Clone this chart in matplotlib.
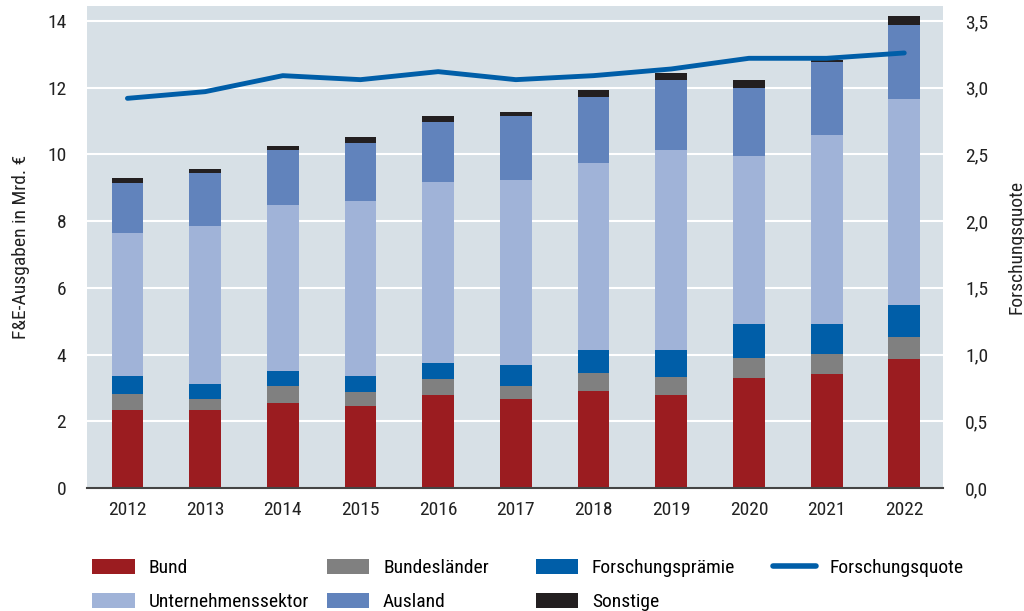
import numpy as np
import matplotlib

matplotlib.use('Agg')
from matplotlib import pyplot as plt
from matplotlib.patches import Patch
from matplotlib.lines import Line2D

plt.rcParams['font.family'] = ['Roboto Condensed', 'Liberation Sans Narrow', 'DejaVu Sans Condensed',
                               'Roboto', 'DejaVu Sans']

years = ['2012', '2013', '2014', '2015', '2016', '2017', '2018', '2019', '2020', '2021', '2022']
bund = [2.34, 2.34, 2.54, 2.47, 2.79, 2.67, 2.92, 2.79, 3.31, 3.43, 3.88]
bundeslaender = [0.47, 0.34, 0.52, 0.40, 0.47, 0.39, 0.53, 0.54, 0.59, 0.59, 0.65]
praemie = [0.56, 0.45, 0.45, 0.50, 0.50, 0.63, 0.69, 0.81, 1.01, 0.89, 0.95]
unternehmen = [4.28, 4.71, 4.97, 5.23, 5.42, 5.54, 5.60, 5.99, 5.04, 5.67, 6.18]
ausland = [1.48, 1.60, 1.66, 1.73, 1.78, 1.92, 1.98, 2.10, 2.03, 2.18, 2.23]
sonstige = [0.17, 0.12, 0.12, 0.19, 0.19, 0.13, 0.20, 0.20, 0.25, 0.07, 0.26]
quote = [2.92, 2.97, 3.09, 3.06, 3.12, 3.06, 3.09, 3.14, 3.22, 3.22, 3.26]

series = [
    ('Bund', bund, '#9b1c20'),
    ('Bundesländer', bundeslaender, '#808080'),
    ('Forschungsprämie', praemie, '#005ea8'),
    ('Unternehmenssektor', unternehmen, '#a0b3d8'),
    ('Ausland', ausland, '#6183bc'),
    ('Sonstige', sonstige, '#231f20'),
]
line_color = '#005ea8'
bg = '#d7e0e6'
txt = '#222222'

fig = plt.figure(figsize=(10.24, 6.11), dpi=100)
ax = fig.add_axes([0.085, 0.2013, 0.836, 0.789])
ax.set_facecolor(bg)

x = np.arange(len(years))
bottom = np.zeros(len(years))
for name, vals, col in series:
    ax.bar(x, vals, 0.41, bottom=bottom, color=col, zorder=3)
    bottom += np.array(vals)

ax.set_xlim(-0.52, 10.5)
ax.set_ylim(0, 14.45)
ax.set_yticks(range(0, 15, 2))
ax.set_xticks(x)
ax.set_xticklabels(years)
ax.grid(axis='y', color='white', linewidth=1.5, zorder=1)
for s in ['top', 'right', 'left']:
    ax.spines[s].set_visible(False)
ax.spines['bottom'].set_color('#444444')
ax.spines['bottom'].set_linewidth(1.5)
ax.spines['bottom'].set_zorder(5)
ax.tick_params(axis='both', length=0, labelsize=14, colors=txt)
ax.tick_params(axis='x', pad=9)
ax.tick_params(axis='y', pad=15)
ax.set_ylabel('F&E-Ausgaben in Mrd. €', fontsize=14, labelpad=12, color=txt)

ax2 = ax.twinx()
ax2.plot(x, quote, color=line_color, linewidth=3.5, zorder=4, solid_capstyle='round')
ax2.set_ylim(0, 14.45 / 4)
ticks2 = np.arange(0, 3.6, 0.5)
ax2.set_yticks(ticks2)
ax2.set_yticklabels([f'{v:.1f}'.replace('.', ',') for v in ticks2])
for s in ['top', 'right', 'left', 'bottom']:
    ax2.spines[s].set_visible(False)
ax2.tick_params(axis='y', length=0, labelsize=14, pad=16, colors=txt)
ax2.set_ylabel('Forschungsquote', fontsize=14, labelpad=14, color=txt)

# legend: one small legend per column, placed like the reference
handles = {name: Patch(facecolor=col) for name, vals, col in series}
columns = [
    (['Bund', 'Unternehmenssektor'], 0.09),
    (['Bundesländer', 'Ausland'], 0.319),
    (['Forschungsprämie', 'Sonstige'], 0.523),
    (['Forschungsquote'], 0.755),
]
for names, xpos in columns:
    hl = []
    for n in names:
        if n == 'Forschungsquote':
            hl.append(Line2D([], [], color=line_color, linewidth=4, solid_capstyle='round'))
        else:
            hl.append(handles[n])
    fig.legend(hl, names, loc='upper left', bbox_to_anchor=(xpos, 0.085), frameon=False,
               fontsize=14, handlelength=2.2, handleheight=0.8, handletextpad=0.7,
               labelspacing=0.8, borderaxespad=0, borderpad=0)

fig.savefig('out.png', dpi=100)
